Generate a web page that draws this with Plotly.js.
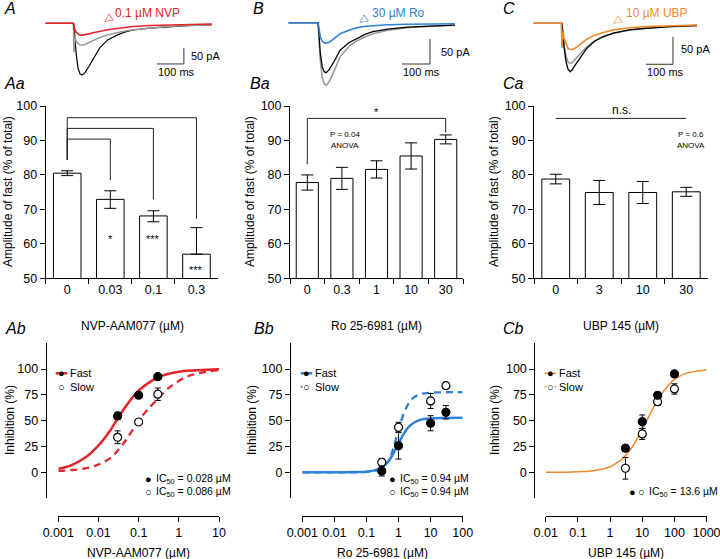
<!DOCTYPE html>
<html><head><meta charset="utf-8">
<script src="https://cdn.plot.ly/plotly-3.0.1.min.js"></script>
<style>html,body{margin:0;padding:0;background:#fff}#plot{width:720px;height:559px}</style>
</head><body><div id="plot"></div>
<script>
// ---------- DATA ----------
// Panel A/B/C: example EPSC traces (time ms, current pA)
const tA = [-105, -2, 0, 3, 8, 15, 22, 30, 40, 55, 75, 96, 125, 159, 190, 219, 280, 344, 420, 510];
const ctrlA = [0, 0, -5, -40, -95, -140, -158, -162, -155, -135, -105, -76, -52, -37, -27, -21, -15, -11, -7, -5];
const greyA = [0, 0, -90, -45, -55, -63, -67, -68, -66, -60, -52, -44, -36, -29, -24, -20, -14, -10, -7, -4];
const drugA = [0, 0, -20, -18, -28, -34, -37, -37, -36, -33, -29, -25, -20, -16, -13, -10, -7, -5, -3, -2];

const tB = [-105, -2, 0, 3, 8, 15, 22, 29, 40, 55, 79, 110, 139, 170, 196, 250, 318, 400, 489];
const ctrlB = [0, 0, 0, -20, -60, -88, -98, -100, -94, -80, -55, -40, -31, -23, -18, -13, -9, -7, -5];
const greyB = [0, 0, 0, -25, -75, -110, -122, -125, -118, -100, -68, -48, -36, -28, -22, -15, -10, -7, -5];
const drugB = [0, 0, 0, -10, -28, -37, -40, -41, -39, -33, -22, -15, -10, -7, -6, -4, -3, -2.5, -2];

const tC = [-105, -2, 0, 3, 8, 15, 22, 30, 37, 50, 70, 91, 120, 150, 190, 250, 314, 400, 500];
const ctrlC = [0, 0, 0, -15, -45, -70, -83, -88, -85, -75, -60, -46, -33, -25, -18, -12, -9, -6, -4];
const greyC = [0, 0, -45, -20, -40, -60, -70, -73, -72, -65, -54, -43, -32, -24, -18, -12, -9, -6, -4];
const drugC = [0, 0, -40, -15, -28, -38, -45, -47, -48, -45, -37, -29, -22, -17, -12, -8, -6, -4, -3];

// scale bars (ms, pA)
const scaleA_t = [307, 407, 407], scaleA_i = [-127, -127, -77];
const scaleB_t = [300, 400, 400], scaleB_i = [-82.6, -82.6, -32.6];
const scaleC_t = [311, 411, 411], scaleC_i = [-74.5, -74.5, -24.5];

// Panels Aa/Ba/Ca: amplitude of fast (% of total)
const catA = ['0', '0.03', '0.1', '0.3'];
const ampA = [80.5, 72.9, 68.1, 57.0];
const errAplus = [0.7, 2.5, 1.5, 7.7];
const errAminus = [0.7, 2.6, 1.7, 0];
const bracketStartA = 84.4;
const bracketYA = [90.4, 93.5, 96.6];
const bracketEndA = [78.5, 72.9, 67.3];
const starsA = ['*', '***', '***'];
const starYA = [61.4, 61.4, 52.3];

const catB = ['0', '0.3', '1', '10', '30'];
const ampB = [77.8, 79.0, 81.6, 85.5, 90.3];
const errB = [2.2, 3.2, 2.5, 3.8, 1.3];
const bracketB_y = [83.1, 96.4, 96.4, 92.3];

const catC = ['0', '3', '10', '30'];
const ampC = [78.8, 74.9, 74.9, 75.1];
const errC = [1.4, 3.5, 3.2, 1.3];

// Panels Ab/Bb/Cb: inhibition (%)
const concA = [0.03, 0.1, 0.3];
const fastA = [54.6, 74.6, 92.6], fastErrA = [3.5, 1.5, 1.5];
const slowA = [33.9, 48.7, 75.6], slowErrA = [6.2, 1.5, 6.0];
const fitXA = [0.001, 0.002, 0.005, 0.01, 0.02, 0.03, 0.05, 0.1, 0.2, 0.3, 0.5, 1, 2, 5, 10];
const fitFastA = [3.5, 6.5, 15, 26, 41, 52, 65, 79, 88, 92, 95, 97.3, 98.5, 99.4, 99.7];
const fitSlowA = [1.3, 2.0, 4.0, 7.5, 14, 21, 32, 50, 64, 71, 80, 88.5, 94, 97.5, 99];

const concB = [0.3, 1, 10, 30];
const fastB = [1.3, 25.8, 47.5, 58.1], fastErrB = [4.9, 13, 7.3, 6.5];
const slowB = [9.7, 43.6, 69.1, 83.9], slowErrB = [3.3, 4.8, 7.3, 1.5];
const fitXB = [0.001, 0.01, 0.05, 0.1, 0.2, 0.3, 0.5, 0.7, 1, 1.5, 2, 3, 5, 10, 30, 100];
const fitFastB = [0, 0, 0.2, 0.6, 2.3, 4.8, 11, 18.5, 28, 38, 43.5, 48, 51, 52.2, 52.6, 52.7];
const fitSlowB = [0, 0, 0.05, 0.3, 1.7, 4.2, 12, 24, 41.5, 58, 66, 72.5, 75.8, 77.1, 77.5, 77.5];

const concC = [3, 10, 30, 100];
const fastC = [23.3, 49, 74.6, 95.2], fastErrC = [1.5, 6.5, 2.5, 1.5];
const slowC = [3.9, 37.1, 68.4, 80.7], slowErrC = [10.5, 5.3, 3.8, 5.0];
const fitXC = [0.01, 0.03, 0.1, 0.3, 0.5, 1, 2, 3, 5, 10, 20, 30, 50, 100, 200, 300, 500, 1000];
const fitC = [0.03, 0.1, 0.4, 1.5, 2.6, 5.4, 11, 16, 25, 41.5, 60, 70.5, 80, 90, 95, 96.8, 98, 99.1];

// ---------- STYLE ----------
const RED = '#e3242b', BLUE = '#2f7fd9', ORANGE = '#ef8a2c', GREY = '#9a9a9a';
const FONT = 'Liberation Sans, Arial, Helvetica, sans-serif';
const W = 720, H = 559;
const fx = p => p / W, fy = p => 1 - p / H;

const traces = [];
function tr(t, i, color, w, ax) {
  traces.push({x: t, y: i, xaxis: 'x' + ax, yaxis: 'y' + ax, mode: 'lines', line: {color: color, width: w}, hoverinfo: 'skip'});
}
// EPSC traces
tr(tA, ctrlA, 'black', 1.2, ''); tr(tA, greyA, GREY, 1.6, ''); tr(tA, drugA, RED, 1.6, '');
tr(scaleA_t, scaleA_i, '#333', 1, '');
tr(tB, greyB, GREY, 1.6, '2'); tr(tB, ctrlB, 'black', 1.3, '2'); tr(tB, drugB, BLUE, 1.6, '2');
tr(scaleB_t, scaleB_i, '#333', 1, '2');
tr(tC, greyC, GREY, 1.6, '3'); tr(tC, ctrlC, 'black', 1.3, '3'); tr(tC, drugC, ORANGE, 1.6, '3');
tr(scaleC_t, scaleC_i, '#333', 1, '3');

// Bars
function bars(cat, val, ep, em, ax) {
  traces.push({type: 'bar', x: cat, y: val, xaxis: 'x' + ax, yaxis: 'y' + ax, width: 0.64,
    marker: {color: 'white', line: {color: 'black', width: 1}},
    error_y: {type: 'data', symmetric: false, array: ep, arrayminus: em, color: 'black', thickness: 1, width: 6},
    hoverinfo: 'skip'});
}
bars(catA, ampA, errAplus, errAminus, 4);
bars(catB, ampB, errB, errB, 5);
bars(catC, ampC, errC, errC, 6);
for (let i = 0; i < bracketYA.length; i++) {
  traces.push({x: [catA[0], catA[0], catA[i + 1], catA[i + 1]], y: [bracketStartA, bracketYA[i], bracketYA[i], bracketEndA[i]],
    xaxis: 'x4', yaxis: 'y4', mode: 'lines', line: {color: '#222', width: 1}, hoverinfo: 'skip'});
}
traces.push({x: [catB[0], catB[0], catB[4], catB[4]], y: bracketB_y, xaxis: 'x5', yaxis: 'y5', mode: 'lines', line: {color: '#222', width: 1}, hoverinfo: 'skip'});
traces.push({x: [catC[0], catC[3]], y: [96.4, 96.4], xaxis: 'x6', yaxis: 'y6', mode: 'lines', line: {color: '#222', width: 1}, hoverinfo: 'skip'});

// Concentration-response
function curve(x, y, color, w, dash, ax) {
  traces.push({x: x, y: y, xaxis: 'x' + ax, yaxis: 'y' + ax, mode: 'lines', line: {color: color, width: w, dash: dash, shape: 'spline', smoothing: 1}, hoverinfo: 'skip'});
}
function pts(x, y, e, filled, ax) {
  traces.push({x: x, y: y, xaxis: 'x' + ax, yaxis: 'y' + ax, mode: 'markers',
    marker: {size: 8, color: filled ? 'black' : 'white', line: {color: 'black', width: 1.2}},
    error_y: {type: 'data', array: e, color: 'black', thickness: 1, width: 3}, hoverinfo: 'skip'});
}
curve(fitXA, fitSlowA, RED, 2.3, '7px,5px', 7);
curve(fitXA, fitFastA, RED, 2.5, 'solid', 7);
pts(concA, slowA, slowErrA, false, 7);
pts(concA, fastA, fastErrA, true, 7);
curve(fitXB, fitSlowB, BLUE, 2.3, '7px,5px', 8);
curve(fitXB, fitFastB, BLUE, 2.5, 'solid', 8);
pts(concB, slowB, slowErrB, false, 8);
pts(concB, fastB, fastErrB, true, 8);
curve(fitXC, fitC, ORANGE, 1.5, 'solid', 9);
pts(concC, slowC, slowErrC, false, 9);
pts(concC, fastC, fastErrC, true, 9);

// ---------- LAYOUT ----------
const tickFont = {family: FONT, size: 12.5, color: 'black'};
const hidden = {visible: false, fixedrange: true};
const layout = {
  width: W, height: H, margin: {l: 0, r: 0, t: 0, b: 0},
  paper_bgcolor: 'white', plot_bgcolor: 'rgba(0,0,0,0)', showlegend: false, hovermode: false,
  font: {family: FONT, color: 'black'},
  xaxis: Object.assign({domain: [fx(45), fx(215)], range: [-107.4, 522.2]}, hidden),
  yaxis: Object.assign({domain: [fy(85), fy(5)], range: [-192.8, 57.2]}, hidden),
  xaxis2: Object.assign({domain: [fx(285), fx(460)], range: [-117.9, 507.1], anchor: 'y2'}, hidden),
  yaxis2: Object.assign({domain: [fy(90), fy(5)], range: [-134.6, 35.4], anchor: 'x2'}, hidden),
  xaxis3: Object.assign({domain: [fx(528), fx(705)], range: [-125.9, 529.6], anchor: 'y3'}, hidden),
  yaxis3: Object.assign({domain: [fy(90), fy(5)], range: [-121.3, 33.3], anchor: 'x3'}, hidden),
  shapes: [], annotations: []
};
function barAxes(n, d0, d1, ncat) {
  layout['xaxis' + n] = {domain: [fx(d0), fx(d1)], anchor: 'y' + n, type: 'category', range: [-0.5, ncat - 0.5],
    showline: true, linecolor: 'black', linewidth: 1, ticks: 'outside', tickson: 'boundaries', ticklen: 5, tickcolor: 'black',
    tickfont: tickFont, showgrid: false, zeroline: false, fixedrange: true};
  layout['yaxis' + n] = {domain: [fy(278.3), fy(106)], anchor: 'x' + n, range: [50, 100], dtick: 10,
    showline: true, linecolor: 'black', linewidth: 1, ticks: 'outside', ticklen: 5, tickcolor: 'black',
    tickfont: tickFont, showgrid: false, zeroline: false, fixedrange: true};
}
barAxes(4, 45.7, 218, catA.length);
barAxes(5, 290, 463, catB.length);
barAxes(6, 534, 708, catC.length);
function crAxes(n, d0, d1, r, yPos, tv, tt) {
  layout['xaxis' + n] = {domain: [fx(d0), fx(d1)], anchor: 'free', position: fy(516), type: 'log', range: r,
    tickmode: 'array', tickvals: tv, ticktext: tt, ticklabeloverflow: 'allow',
    showline: true, linecolor: 'black', linewidth: 1, ticks: 'outside', ticklen: 5, tickcolor: 'black',
    tickfont: tickFont, showgrid: false, zeroline: false, fixedrange: true};
  layout['yaxis' + n] = {domain: [fy(498.1), fy(343.2)], anchor: 'free', position: fx(yPos), range: [-25, 125],
    tickmode: 'array', tickvals: [0, 25, 50, 75, 100],
    showline: true, linecolor: 'black', linewidth: 1, ticks: 'outside', ticklen: 5, tickcolor: 'black',
    tickfont: tickFont, showgrid: false, zeroline: false, fixedrange: true};
}
crAxes(7, 58.3, 219, [-3, 1], 45.7, [0.001, 0.01, 0.1, 1, 10], ['0.001', '0.01', '0.1', '1', '10']);
crAxes(8, 302.3, 462.7, [-3, 2], 290, [0.001, 0.01, 0.1, 1, 10, 100], ['0.001', '0.01', '0.1', '1', '10', '100']);
crAxes(9, 545.7, 706.7, [-2, 3.002], 534.3, [0.01, 0.1, 1, 10, 100, 1000], ['0.01', '0.1', '1', '10', '100', '1000']);

const A = layout.annotations;
function txt(text, x, y, size, opts) {
  A.push(Object.assign({text: text, x: fx(x), y: fy(y), xref: 'paper', yref: 'paper', showarrow: false,
    xanchor: 'left', yanchor: 'middle', font: {family: FONT, size: size, color: 'black'}}, opts || {}));
}
// panel letters
[['A', 2, 9], ['Aa', 2, 84], ['Ab', 3, 328], ['B', 251, 9], ['Ba', 248, 84], ['Bb', 252, 328],
 ['C', 501, 9], ['Ca', 501, 84], ['Cb', 501, 328]].forEach(l => txt('<i>' + l[0] + '</i>', l[1], l[2], 16));
// trace labels
txt('◁', 107, 18, 11, {xanchor: 'center', textangle: -35, font: {family: FONT, size: 11, color: RED}});
txt('0.1 µM NVP', 113, 13, 12, {font: {family: FONT, size: 12, color: RED}});
txt('50 pA', 189, 56, 11); txt('100 ms', 156, 72, 11);
txt('◁', 362, 19, 11, {xanchor: 'center', textangle: -35, font: {family: FONT, size: 11, color: BLUE}});
txt('30 µM Ro', 370, 13, 12, {font: {family: FONT, size: 12, color: BLUE}});
txt('50 pA', 439, 52, 11); txt('100 ms', 401, 72, 11);
txt('◁', 616, 20, 11, {xanchor: 'center', textangle: -35, font: {family: FONT, size: 11, color: ORANGE}});
txt('10 µM UBP', 624, 13, 12, {font: {family: FONT, size: 12, color: ORANGE}});
txt('50 pA', 679, 49, 11); txt('100 ms', 645, 72, 11);
// axis titles
const yt1 = 'Amplitude of fast (% of total)';
txt(yt1, 8, 192, 12, {xanchor: 'center', textangle: -90});
txt(yt1, 250, 192, 12, {xanchor: 'center', textangle: -90});
txt(yt1, 494, 192, 12, {xanchor: 'center', textangle: -90});
txt('NVP-AAM077 (µM)', 132, 326, 12, {xanchor: 'center'});
txt('Ro 25-6981 (µM)', 376.5, 326, 12, {xanchor: 'center'});
txt('UBP 145 (µM)', 621, 326, 12, {xanchor: 'center'});
const yt2 = 'Inhibition (%)';
txt(yt2, 10, 420, 12, {xanchor: 'center', textangle: -90});
txt(yt2, 252, 420, 12, {xanchor: 'center', textangle: -90});
txt(yt2, 495, 420, 12, {xanchor: 'center', textangle: -90});
txt('NVP-AAM077 (µM)', 138.6, 553, 12, {xanchor: 'center'});
txt('Ro 25-6981 (µM)', 382.5, 553, 12, {xanchor: 'center'});
txt('UBP 145 (µM)', 626.2, 553, 12, {xanchor: 'center'});
// stars & stats (x given as category index)
function dtxt(text, x, y, ax, size) {
  A.push({text: text, x: x, y: y, xref: 'x' + ax, yref: 'y' + ax, showarrow: false, xanchor: 'center', yanchor: 'middle',
    font: {family: FONT, size: size, color: 'black'}});
}
for (let i = 0; i < starsA.length; i++) dtxt(starsA[i], i + 1, starYA[i], 4, 11);
dtxt('*', 2, 98.3, 5, 11);
dtxt('P = 0.04', 1.09, 91.8, 5, 8);
dtxt('ANOVA', 1.09, 88.4, 5, 8);
dtxt('n.s.', 1.5, 98.9, 6, 12);
dtxt('P = 0.6', 3.1, 91.8, 6, 8);
dtxt('ANOVA', 3.1, 88.4, 6, 8);
// IC50 notes (marker glyphs as separate texts; open ring on white)
function mk(x, y, filled) {
  txt(filled ? '●' : '○', x, y, 11, {xanchor: 'center', bgcolor: filled ? 'rgba(0,0,0,0)' : 'white', borderpad: 0});
}
txt('IC<sub>50</sub> = 0.028 µM', 153.5, 478.5, 10.5);
txt('IC<sub>50</sub> = 0.086 µM', 153.5, 491.5, 10.5);
mk(148.3, 479, true); mk(148.3, 492, false);
txt('IC<sub>50</sub> = 0.94 µM', 397.5, 478.5, 10.5);
txt('IC<sub>50</sub> = 0.94 µM', 397.5, 491.5, 10.5);
mk(392.7, 479, true); mk(392.7, 492, false);
txt('IC<sub>50</sub> = 13.6 µM', 646.5, 491.5, 10.5);
mk(632.7, 492, true); mk(641.3, 492, false);
// custom legends
const S = layout.shapes;
function seg(x0, x1, y, color, w, dash) {
  S.push({type: 'line', xref: 'paper', yref: 'paper', x0: fx(x0), x1: fx(x1), y0: fy(y), y1: fy(y), line: {color: color, width: w, dash: dash || 'solid'}});
}
function legend(xm, color, w, slowDash, slowW) {
  seg(xm - 6, xm + 5.5, 373.3, color, w);
  if (slowDash) seg(xm - 6, xm + 5.5, 386.7, color, slowW, slowDash);
  mk(xm, 373.3, true);
  mk(xm, 386.7, false);
  txt('Fast', xm + 6.5, 373.3, 11);
  txt('Slow', xm + 6.5, 386.7, 11);
}
legend(61.7, RED, 2.5, null);
legend(306.7, BLUE, 2.5, '3px,3px', 2);
legend(550.7, ORANGE, 1.5, 'solid', 1.5);

Plotly.newPlot('plot', traces, layout, {staticPlot: true, displayModeBar: false});
</script></body></html>
